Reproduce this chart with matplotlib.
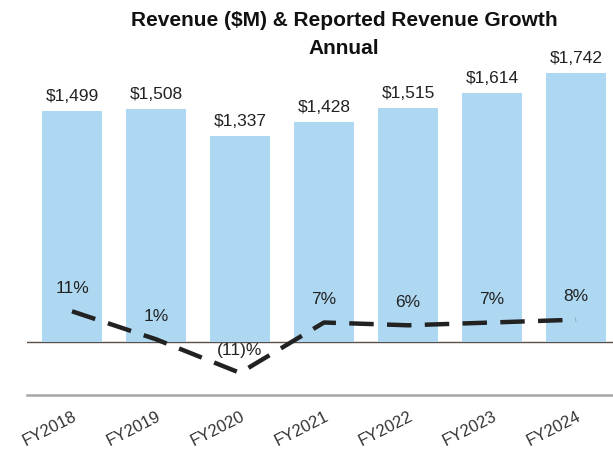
import matplotlib.pyplot as plt

plt.rcParams['font.family'] = ['Liberation Sans', 'DejaVu Sans']

years = ['FY2018', 'FY2019', 'FY2020', 'FY2021', 'FY2022', 'FY2023', 'FY2024']
revenue = [1499, 1508, 1337, 1428, 1515, 1614, 1742]
growth = [11, 1, -11, 7, 6, 7, 8]
growth_labels = ['11%', '1%', '(11)%', '7%', '6%', '7%', '8%']

fig = plt.figure(figsize=(6.13, 4.57), dpi=100)
# axes from x=27px to right edge, y=395px (bottom) to 40px (top)
ax = fig.add_axes([27 / 613, 1 - 395 / 457, 1 - 27 / 613, 355 / 457])
x = list(range(len(years)))

ax.bar(x, revenue, width=0.714, color='#aed8f2', zorder=1)
for xi, v in zip(x, revenue):
    ax.annotate(f'${v:,}', (xi, v), xytext=(0, 5), textcoords='offset points',
                ha='center', va='bottom', fontsize=12.5, color='#222222')

ax.set_xlim(-0.536, 6.44)
ax.set_ylim(-343, 1956)
ax.axhline(0, color='#5a5048', lw=1.0, zorder=0)
for s in ['top', 'right', 'left']:
    ax.spines[s].set_visible(False)
ax.spines['bottom'].set_color('#a6a6a6')
ax.spines['bottom'].set_linewidth(1.8)
ax.set_yticks([])
ax.set_xticks(x)
ax.set_xticklabels(years, rotation=27, ha='right', rotation_mode='anchor',
                   fontsize=12, color='#333333')
ax.tick_params(axis='x', length=0, pad=10)

ax2 = ax.twinx()
ax2.set_ylim(-18.9, 107.9)
ax2.plot(x, growth, color='#222222', lw=3.2, dashes=(5.5, 3), zorder=3)
for xi, g, lab in zip(x, growth, growth_labels):
    ax2.annotate(lab, (xi, g), xytext=(0, 11), textcoords='offset points',
                 ha='center', va='bottom', fontsize=12.5, color='#222222')
ax2.axis('off')

fig.text(344 / 613, 1 - 21 / 457, 'Revenue ($M) & Reported Revenue Growth',
         ha='center', va='center', fontsize=15, fontweight='bold', color='#111111')
fig.text(344 / 613, 1 - 49 / 457, 'Annual',
         ha='center', va='center', fontsize=15, fontweight='bold', color='#111111')

fig.savefig('out.png', dpi=100)
